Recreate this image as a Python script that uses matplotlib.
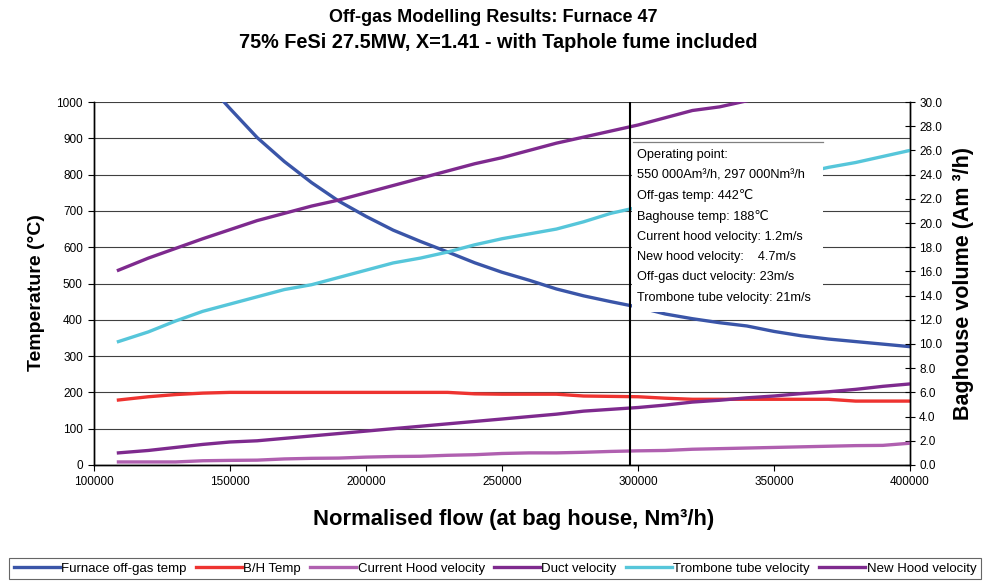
import matplotlib
matplotlib.use('Agg')
import matplotlib.pyplot as plt
import numpy as np
from matplotlib.patches import Rectangle
from matplotlib.lines import Line2D

plt.rcParams['font.family'] = ['Liberation Sans', 'DejaVu Sans']

# flow (Nm3/h) at bag house
flow = [109000, 120000, 130000, 140000, 150000, 160000, 170000, 180000, 190000, 200000,
        210000, 220000, 230000, 240000, 250000, 260000, 270000, 280000, 290000, 300000,
        310000, 320000, 330000, 340000, 350000, 360000, 370000, 380000, 390000, 400000]

# left axis (temperature, C)
furnace_temp = [np.nan, np.nan, np.nan, 1065, 982, 902, 836, 778, 727, 685,
                647, 616, 587, 557, 531, 509, 485, 466, 450, 435,
                416, 403, 392, 383, 368, 356, 347, 340, 333, 326]
bh_temp = [179, 188, 194, 198, 200, 200, 200, 200, 200, 200,
           200, 200, 200, 196, 195, 195, 195, 190, 189, 188,
           184, 181, 181, 181, 181, 181, 181, 176, 176, 176]

# right axis (velocity, m/s)
current_hood = [0.25, 0.25, 0.25, 0.35, 0.38, 0.40, 0.50, 0.55, 0.57, 0.65,
                0.70, 0.72, 0.80, 0.85, 0.95, 1.00, 1.00, 1.05, 1.12, 1.17,
                1.20, 1.30, 1.35, 1.40, 1.45, 1.50, 1.55, 1.60, 1.62, 1.80]
duct_vel = [16.1, 17.1, 17.9, 18.7, 19.45, 20.2, 20.8, 21.4, 21.9, 22.5,
            23.1, 23.7, 24.3, 24.9, 25.4, 26.0, 26.6, 27.1, 27.6, 28.1,
            28.7, 29.3, 29.6, 30.1, np.nan, np.nan, np.nan, np.nan, np.nan, np.nan]
trombone_vel = [10.2, 11.0, 11.9, 12.7, 13.3, 13.9, 14.5, 14.9, 15.5, 16.1,
                16.7, 17.1, 17.6, 18.2, 18.7, 19.1, 19.5, 20.1, 20.8, 21.3,
                21.8, 22.3, 22.9, 23.3, 23.8, 24.1, 24.6, 25.0, 25.5, 26.0]
new_hood = [1.0, 1.2, 1.45, 1.7, 1.9, 2.0, 2.2, 2.4, 2.6, 2.8,
            3.0, 3.2, 3.4, 3.6, 3.8, 4.0, 4.2, 4.45, 4.6, 4.75,
            4.95, 5.2, 5.35, 5.55, 5.7, 5.9, 6.05, 6.25, 6.5, 6.7]

op_flow = 297000
info_lines = ["Operating point:",
              "550 000Am³/h, 297 000Nm³/h",
              "Off-gas temp: 442℃",
              "Baghouse temp: 188℃",
              "Current hood velocity: 1.2m/s",
              "New hood velocity:    4.7m/s",
              "Off-gas duct velocity: 23m/s",
              "Trombone tube velocity: 21m/s"]

c_blue = '#3A55A8'
c_red = '#EE3330'
c_pink = '#B060B0'
c_purple = '#7E2A8E'
c_cyan = '#56C6DA'
lw = 2.4

fig = plt.figure(figsize=(9.87, 5.84), dpi=100)
ax = fig.add_axes([0.0952, 0.2038, 0.8268, 0.6215])
ax2 = ax.twinx()

l1, = ax.plot(flow, furnace_temp, color=c_blue, lw=lw, label='Furnace off-gas temp')
l2, = ax.plot(flow, bh_temp, color=c_red, lw=lw, label='B/H Temp')
l3, = ax2.plot(flow, current_hood, color=c_pink, lw=lw, label='Current Hood velocity')
l4, = ax2.plot(flow, duct_vel, color=c_purple, lw=lw, label='Duct velocity')
l5, = ax2.plot(flow, trombone_vel, color=c_cyan, lw=lw, label='Trombone tube velocity')
l6, = ax2.plot(flow, new_hood, color=c_purple, lw=lw, label='New Hood velocity')

ax.set_xlim(100000, 400000)
ax.set_ylim(0, 1000)
ax2.set_ylim(0, 30)
ax.set_xticks(np.arange(100000, 400001, 50000))
ax.set_yticks(np.arange(0, 1001, 100))
ax2.set_yticks(np.arange(0, 30.1, 2))
ax2.set_yticklabels(['%.1f' % v for v in np.arange(0, 30.1, 2)])
ax.grid(axis='y', color='#404040', lw=0.8)
ax.set_axisbelow(True)

for a in (ax, ax2):
    a.spines['top'].set_visible(False)
    for s in ('left', 'right', 'bottom'):
        a.spines[s].set_color('black')
        a.spines[s].set_linewidth(1.0)
ax.tick_params(axis='both', labelsize=8.5, length=4, direction='out', pad=4)
ax2.tick_params(axis='y', labelsize=8.5, length=7, direction='inout', pad=3)

ax.set_ylabel('Temperature (°C)', fontsize=14, fontweight='bold')
ax.yaxis.set_label_coords(-0.06, 0.474)
ax2.set_ylabel('Baghouse volume (Am ³/h)', fontsize=15.5, fontweight='bold', labelpad=8)
ax.set_xlabel('Normalised flow (at bag house, Nm³/h)', fontsize=15.8, fontweight='bold')
ax.xaxis.set_label_coords(0.514, -0.12)

# operating point marker and note box
ax2.axvline(op_flow, color='black', lw=1.5, zorder=6)
ax2.add_patch(Rectangle((0.659, 0.4215), 0.234, 0.47, transform=ax2.transAxes,
                        facecolor='white', edgecolor='none', zorder=7))
ax2.add_line(Line2D([0.66, 0.893], [0.889, 0.889], transform=ax2.transAxes,
                    color='#808080', lw=0.9, zorder=8))
for i, t in enumerate(info_lines):
    ax2.text(0.6654, 0.854 - i * 0.0562, t, transform=ax2.transAxes, fontsize=9.2,
             va='center', ha='left', zorder=9)

fig.text(0.5, 1 - 18 / 584, 'Off-gas Modelling Results: Furnace 47',
         ha='center', va='center', fontsize=13, fontweight='bold')
fig.text(0.505, 1 - 42 / 584, '75% FeSi 27.5MW, X=1.41 - with Taphole fume included',
         ha='center', va='center', fontsize=14.3, fontweight='bold')

leg = fig.legend(handles=[l1, l2, l3, l4, l5, l6], loc='upper center',
                 bbox_to_anchor=(0.5015, 1 - 558 / 584), ncol=6, fontsize=9.5,
                 frameon=True, fancybox=False, edgecolor='#404040', handlelength=3.5,
                 handletextpad=0.1, columnspacing=0.7, borderaxespad=0, borderpad=0.35)
leg.get_frame().set_linewidth(0.8)

fig.savefig('out.png', dpi=100)
